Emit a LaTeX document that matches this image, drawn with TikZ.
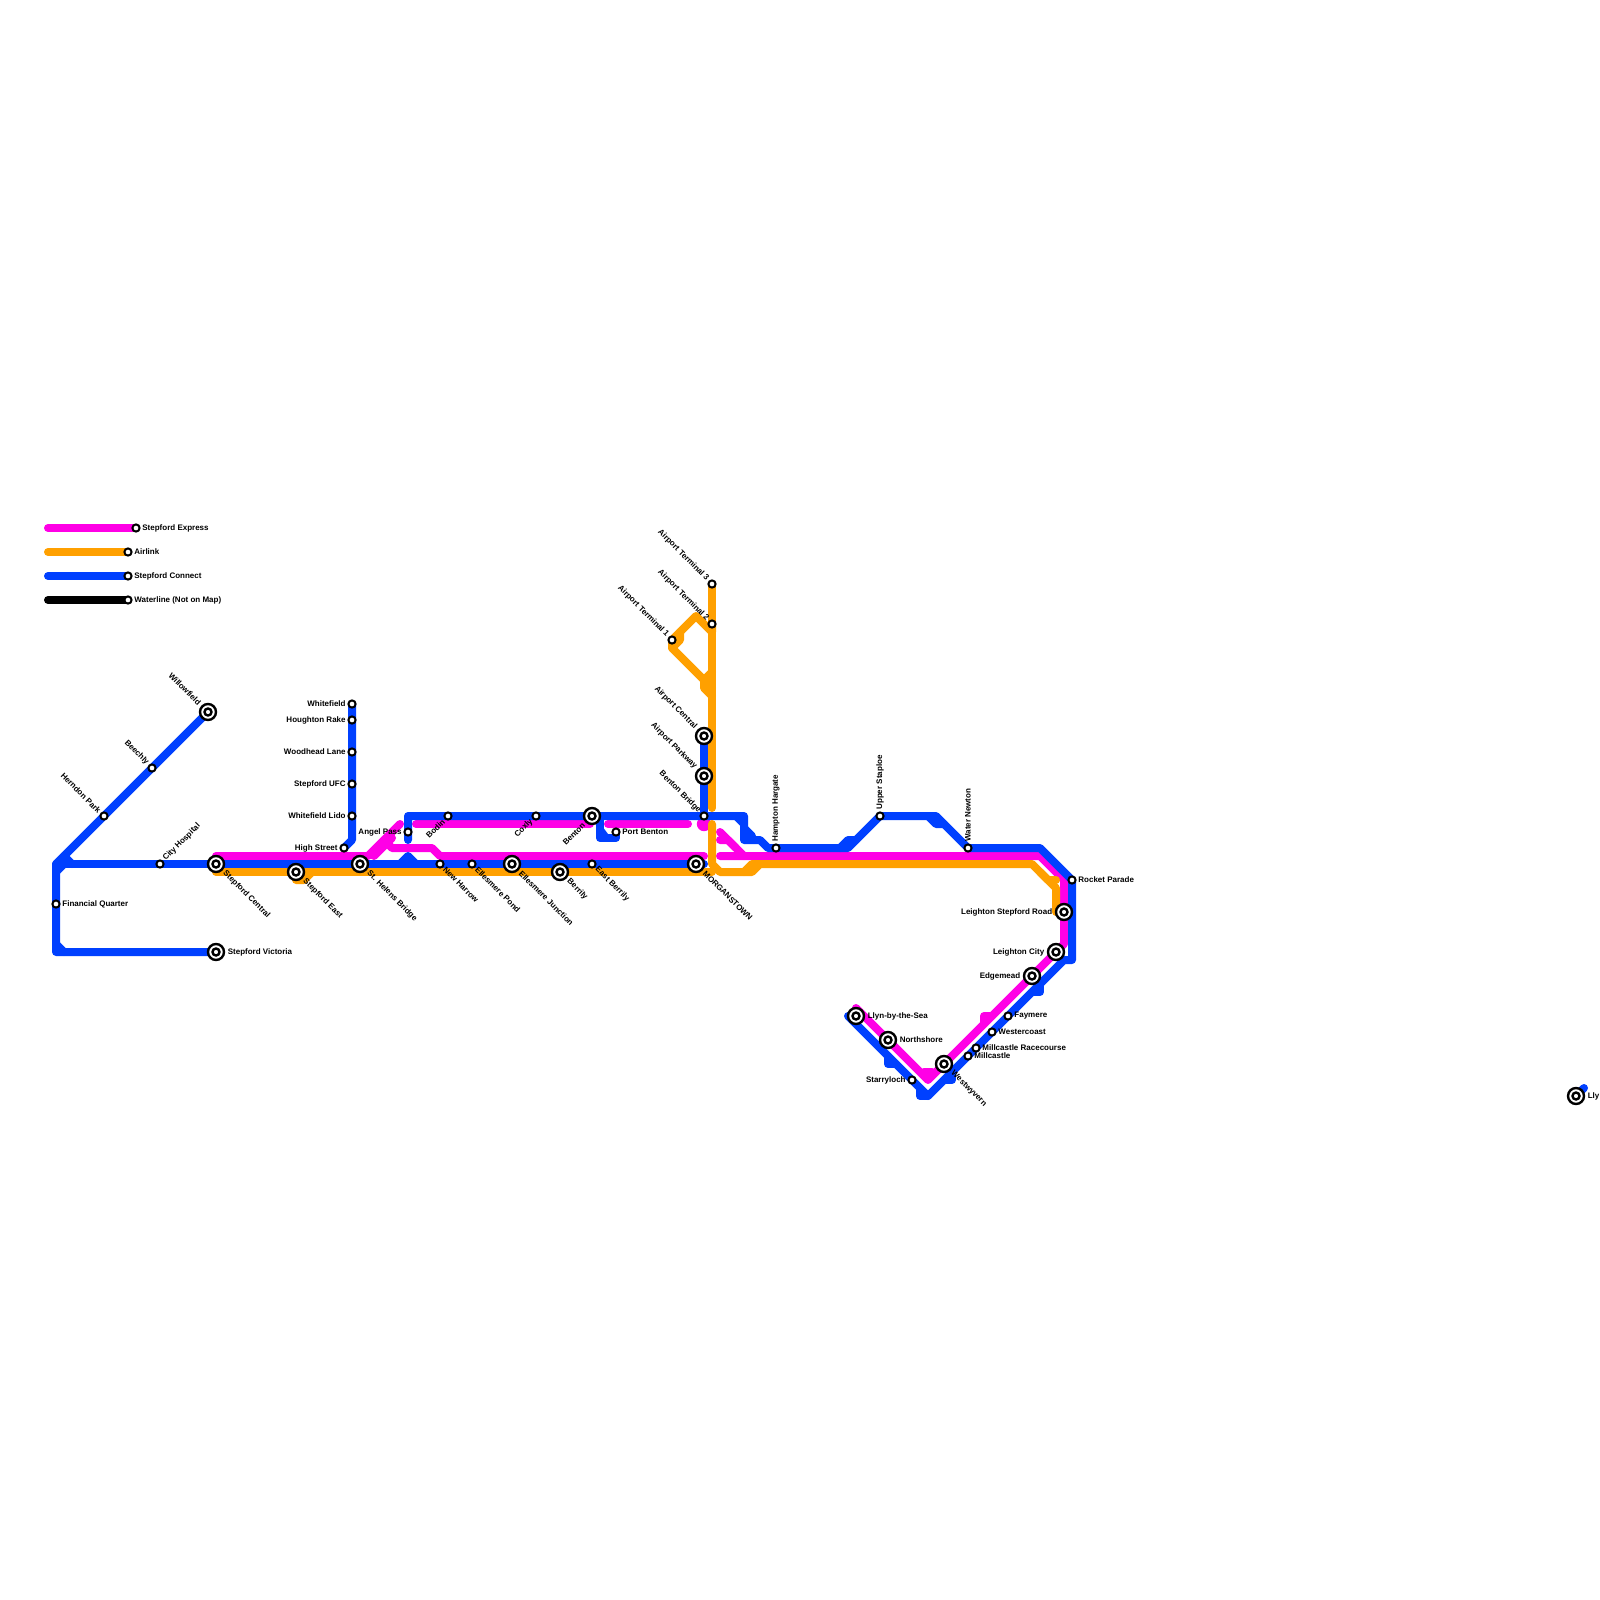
\documentclass[tikz,border=0pt]{standalone}
\usepackage{fontspec}
\setmainfont{Liberation Sans}
\usetikzlibrary{backgrounds}

\begin{document}
\begin{tikzpicture}[
  x=0.5pt, y=-0.5pt,
  font=\fontsize{4}{5}\selectfont\bfseries,
  stn/.style={circle, draw=black, fill=white, line width=1pt, inner sep=0pt, minimum size=3.6pt},
  hub/.style={circle, draw=black, fill=white, line width=1.2pt, inner sep=0pt, minimum size=8pt, outer sep=1pt,
    path picture={\draw[line width=1.2pt] (path picture bounding box.center) circle (1.75pt);}},
  lbe/.style={anchor=west, inner sep=0.7pt},
  lbw/.style={anchor=east, inner sep=0.7pt},
  lnw/.style={anchor=east, rotate=-45, inner sep=0.7pt},
  lse/.style={anchor=west, rotate=-45, inner sep=0.7pt},
  lne/.style={anchor=west, rotate=45, inner sep=0.7pt},
  lsw/.style={anchor=east, rotate=45, inner sep=0.7pt},
  lup/.style={anchor=west, rotate=90, inner sep=0.7pt},
  track/.style={line width=4pt, line cap=round, line join=round},
  express/.style={track, draw={rgb,255:red,255;green,0;blue,230}},
  airlink/.style={track, draw={rgb,255:red,255;green,160;blue,0}},
  connect/.style={track, draw={rgb,255:red,0;green,64;blue,255}},
  water/.style={track, draw=black}
]
\useasboundingbox (0,0) rectangle (1600,1600);

% key
\coordinate (keyA) at (48,528);
\coordinate (keyB) at (48,552);
\coordinate (keyC) at (48,576);
\coordinate (keyD) at (48,600);
\node[stn] (keyexpress) at (136,528) {}; \node[lbe] (keyexpress-t) at (keyexpress.east) {Stepford Express};
\node[stn] (keyairlink) at (128,552) {}; \node[lbe] (keyairlink-t) at (keyairlink.east) {Airlink};
\node[stn] (keyconnect) at (128,576) {}; \node[lbe] (keyconnect-t) at (keyconnect.east) {Stepford Connect};
\node[stn] (keywater) at (128,600) {}; \node[lbe] (keywater-t) at (keywater.east) {Waterline (Not on Map)};

% west end
\coordinate (nwcorner) at (56,864);
\coordinate (swcorner) at (56,952);
\node[hub] (willowfield) at (208,712) {}; \node[lnw] (willowfield-t) at (willowfield.135) {Willowfield};
\node[stn] (beechly) at (152,768) {}; \node[lnw] (beechly-t) at (beechly.135) {Beechly};
\node[stn] (herndon) at (104,816) {}; \node[lnw] (herndon-t) at (herndon.135) {Herndon Park};
\node[stn] (finquarter) at (56,904) {}; \node[lbe] (finquarter-t) at (finquarter.east) {Financial Quarter};
\node[stn] (cityhosp) at (160,864) {}; \node[lne] (cityhosp-t) at (cityhosp.45) {City Hospital};
\node[hub] (stepcentral) at (216,864) {}; \node[lse] (stepcentral-t) at (stepcentral.-45) {Stepford Central};
\node[hub] (stepvictoria) at (216,952) {}; \node[lbe] (stepvictoria-t) at (stepvictoria.east) {Stepford Victoria};
\node[hub] (stepeast) at (296,872) {}; \node[lse] (stepeast-t) at (stepeast.-45) {Stepford East};

% whitefield branch
\node[stn] (whitefield) at (352,704) {}; \node[lbw] (whitefield-t) at (whitefield.west) {Whitefield};
\node[stn] (houghton) at (352,720) {}; \node[lbw] (houghton-t) at (houghton.west) {Houghton Rake};
\node[stn] (woodhead) at (352,752) {}; \node[lbw] (woodhead-t) at (woodhead.west) {Woodhead Lane};
\node[stn] (stepufc) at (352,784) {}; \node[lbw] (stepufc-t) at (stepufc.west) {Stepford UFC};
\node[stn] (lido) at (352,816) {}; \node[lbw] (lido-t) at (lido.west) {Whitefield Lido};
\node[stn] (highst) at (344,848) {}; \node[lbw] (highst-t) at (highst.west) {High Street};

% main corridor
\node[hub] (sthelens) at (360,864) {}; \node[lse] (sthelens-t) at (sthelens.-45) {St. Helens Bridge};
\node[stn] (angel) at (408,832) {}; \node[lbw] (angel-t) at (angel.west) {Angel Pass};
\node[stn] (bodin) at (448,816) {}; \node[lsw] (bodin-t) at (bodin.225) {Bodin};
\node[stn] (coxly) at (536,816) {}; \node[lsw] (coxly-t) at (coxly.225) {Coxly};
\node[hub] (benton) at (592,816) {}; \node[lsw] (benton-t) at (benton.225) {Benton};
\node[stn] (portbenton) at (616,832) {}; \node[lbe] (portbenton-t) at (portbenton.east) {Port Benton};
\node[stn] (newharrow) at (440,864) {}; \node[lse] (newharrow-t) at (newharrow.-45) {New Harrow};
\node[stn] (ellpond) at (472,864) {}; \node[lse] (ellpond-t) at (ellpond.-45) {Ellesmere Pond};
\node[hub] (elljunction) at (512,864) {}; \node[lse] (elljunction-t) at (elljunction.-45) {Ellesmere Junction};
\node[hub] (berrily) at (560,872) {}; \node[lse] (berrily-t) at (berrily.-45) {Berrily};
\node[stn] (eastberrily) at (592,864) {}; \node[lse] (eastberrily-t) at (eastberrily.-45) {East Berrily};
\node[hub] (morganstown) at (696,864) {}; \node[lse] (morganstown-t) at (morganstown.-45) {MORGANSTOWN};

% airport
\node[stn] (term3) at (712,584) {}; \node[lnw] (term3-t) at (term3.135) {Airport Terminal 3};
\node[stn] (term2) at (712,624) {}; \node[lnw] (term2-t) at (term2.135) {Airport Terminal 2};
\node[stn] (term1) at (672,640) {}; \node[lnw] (term1-t) at (term1.135) {Airport Terminal 1};
\node[hub] (aptcentral) at (704,736) {}; \node[lnw] (aptcentral-t) at (aptcentral.135) {Airport Central};
\node[hub] (aptparkway) at (704,776) {}; \node[lnw] (aptparkway-t) at (aptparkway.135) {Airport Parkway};
\node[stn] (bentonbr) at (704,816) {}; \node[lnw] (bentonbr-t) at (bentonbr.135) {Benton Bridge};

% east
\node[stn] (hampton) at (776,848) {}; \node[lup] (hampton-t) at (hampton.north) {Hampton Hargate};
\node[stn] (staploe) at (880,816) {}; \node[lup] (staploe-t) at (staploe.north) {Upper Staploe};
\node[stn] (newton) at (968,848) {}; \node[lup] (newton-t) at (newton.north) {Water Newton};
\node[stn] (rocket) at (1072,880) {}; \node[lbe] (rocket-t) at (rocket.east) {Rocket Parade};
\node[hub] (leighroad) at (1064,912) {}; \node[lbw] (leighroad-t) at (leighroad.west) {Leighton Stepford Road};
\node[hub] (leighcity) at (1056,952) {}; \node[lbw] (leighcity-t) at (leighcity.west) {Leighton City};
\node[hub] (edgemead) at (1032,976) {}; \node[lbw] (edgemead-t) at (edgemead.west) {Edgemead};
\node[stn] (faymere) at (1008,1016) {}; \node[lbe] (faymere-t) at (faymere.east) {Faymere};
\node[stn] (westercoast) at (992,1032) {}; \node[lbe] (westercoast-t) at (westercoast.east) {Westercoast};
\node[stn] (racecourse) at (976,1048) {}; \node[lbe] (racecourse-t) at (racecourse.east) {Millcastle Racecourse};
\node[stn] (millcastle) at (968,1056) {}; \node[lbe] (millcastle-t) at (millcastle.east) {Millcastle};
\node[hub] (westwyvern) at (944,1064) {}; \node[lse] (westwyvern-t) at (westwyvern.-45) {Westwyvern};
\node[stn] (starryloch) at (912,1080) {}; \node[lbw] (starryloch-t) at (starryloch.west) {Starryloch};
\node[hub] (northshore) at (888,1040) {}; \node[lbe] (northshore-t) at (northshore.east) {Northshore};
\node[hub] (llyn) at (856,1016) {}; \node[lbe] (llyn-t) at (llyn.east) {Llyn-by-the-Sea};
\node[hub] (farlly) at (1576,1096) {}; \node[lbe] (farlly-t) at (farlly.east) {Lly};

% bends shared by the lines
\coordinate (expwest) at (216,856);
\coordinate (expvee) at (928,1080);
\coordinate (expnw) at (856,1008);
\coordinate (conexp) at (848,1016);
\coordinate (convee) at (928,1096);
\coordinate (angelend) at (408,840);
\coordinate (airwest) at (216,872);
\coordinate (aireast) at (1032,864);

\begin{pgfonlayer}{background}
% express
\draw[express] (keyA) -- (keyexpress.center);
\draw[express] (expwest) -- (368,856) -- (400,824);
\draw[express] (374,856) -- (392,838);
\draw[express] (384,840) -- (392,848) -- (432,848) -- (440,856) -- (704,856);
\draw[express] (416,824) -- (590,824);
\draw[express] (608,824) -- (688,824);
\fill[fill={rgb,255:red,255;green,0;blue,230}] (704,824) circle (3.6pt);
\draw[express] (720,832) -- (744,856);
\draw[express] (720,840) -- (728,840) -- (736,848);
\draw[express] (720,856) -- (1040,856) -- (1064,880) -- (leighroad.center) -- (1064,944) -- (leighcity.center) -- (edgemead.center) -- (expvee) -- (northshore.center) -- (expnw);
\draw[express] (984,1024) -- (984,1016) -- (992,1016);
\draw[express] (924,1072) -- (932,1072);

% connect
\draw[connect] (keyC) -- (keyconnect.center);
\draw[connect] (willowfield.center) -- (beechly.center) -- (herndon.center) -- (nwcorner) -- (finquarter.center) -- (swcorner) -- (stepvictoria.center);
\draw[connect] (nwcorner) -- (cityhosp.center) -- (stepcentral.center) -- (sthelens.center) -- (newharrow.center) -- (ellpond.center) -- (elljunction.center) -- (eastberrily.center) -- (morganstown.center) -- (704,864);
\draw[connect] (56,872) -- (64,864);
\draw[connect] (64,856) -- (72,864);
\draw[connect] (56,944) -- (64,952);
\draw[connect] (whitefield.center) -- (houghton.center) -- (woodhead.center) -- (stepufc.center) -- (lido.center) -- (352,840) -- (highst.center);
\draw[connect] (400,864) -- (408,856) -- (416,864);
\draw[connect] (angelend) -- (angel.center) -- (408,816) -- (bodin.center) -- (coxly.center) -- (benton.center) -- (bentonbr.center) -- (744,816) -- (744,840) -- (760,840) -- (768,848) -- (hampton.center) -- (848,848) -- (staploe.center) -- (936,816) -- (newton.center) -- (1040,848) -- (rocket.center) -- (1072,960) -- (1064,960) -- (faymere.center) -- (westercoast.center) -- (racecourse.center) -- (millcastle.center) -- (convee) -- (starryloch.center) -- (conexp);
\draw[connect] (600,816) -- (600,838) -- (616,838) -- (portbenton.center);
\draw[connect] (600,830) -- (606,838);
\draw[connect] (aptcentral.center) -- (aptparkway.center) -- (bentonbr.center);
\draw[connect] (736,816) -- (744,824);
\draw[connect] (744,828) -- (752,836);
\draw[connect] (840,848) -- (848,840) -- (856,840);
\draw[connect] (928,816) -- (936,824) -- (944,824);
\draw[connect] (1040,984) -- (1040,992) -- (1032,992);
\draw[connect] (952,1072) -- (952,1080) -- (944,1080);
\draw[connect] (888,1056) -- (888,1064) -- (896,1064);
\draw[connect] (920,1088) -- (920,1096) -- (convee);
\draw[connect] (1584,1088) -- (farlly.center);

% airlink
\draw[airlink] (keyB) -- (keyairlink.center);
\draw[airlink] (airwest) -- (712,872);
\draw[airlink] (296,880) -- (304,880) -- (312,872);
\draw[airlink] (712,824) -- (712,864) -- (720,872) -- (752,872) -- (760,864) -- (aireast) -- (1056,888) -- (1056,912);
\draw[airlink] (744,872) -- (752,864) -- (760,864);
\draw[airlink] (1040,872) -- (1048,880) -- (1056,880);
\draw[airlink] (term3.center) -- (term2.center) -- (712,808);
\draw[airlink] (term2.center) -- (712,632) -- (696,616) -- (term1.center) -- (672,648) -- (712,688);
\draw[airlink] (680,632) -- (680,640) -- (672,648);
\draw[airlink] (704,680) -- (704,688) -- (712,696);
\draw[airlink] (704,680) -- (712,672);

% waterline
\draw[water] (keyD) -- (keywater.center);
\end{pgfonlayer}
\end{tikzpicture}
\end{document}
